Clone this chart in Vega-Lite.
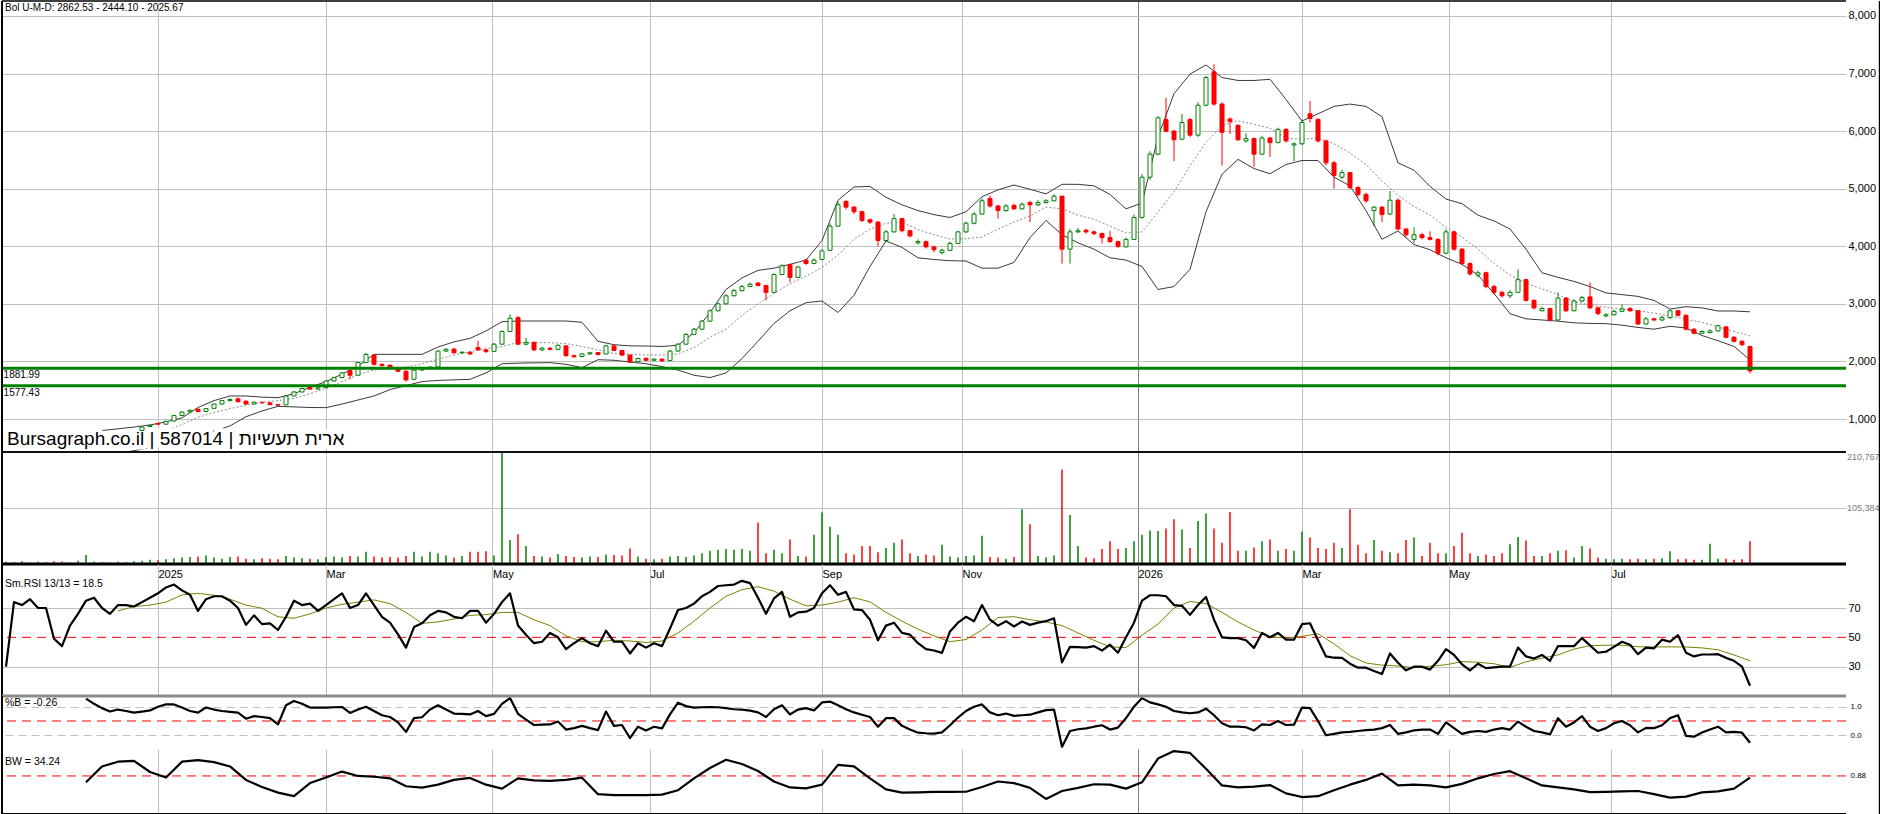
{
  "$schema": "https://vega.github.io/schema/vega-lite/v6.json",
  "padding": 0,
  "background": "white",
  "bounds": "flush",
  "spacing": 0,
  "config": {
    "view": {"stroke": null},
    "axis": {"domain": false, "ticks": false, "tickSize": 0, "labelFont": "Liberation Sans"},
    "text": {"font": "Liberation Sans"}
  },
  "datasets": {
    "c": [
      {"t":1,"o":440,"h":458,"l":432,"c":450,"v":4000,"r":30},
      {"t":3,"o":450,"h":478,"l":446,"c":470,"v":3500,"r":74},
      {"t":5,"o":470,"h":505,"l":465,"c":500,"v":5000,"r":72},
      {"t":7,"o":500,"h":535,"l":495,"c":530,"v":3000,"r":76},
      {"t":9,"o":530,"h":548,"l":522,"c":540,"v":4000,"r":70},
      {"t":11,"o":540,"h":562,"l":535,"c":555,"v":3500,"r":70},
      {"t":13,"o":560,"h":565,"l":538,"c":545,"v":5000,"r":49},
      {"t":15,"o":545,"h":550,"l":522,"c":530,"v":4500,"r":44},
      {"t":17,"o":530,"h":575,"l":528,"c":570,"v":3000,"r":58},
      {"t":19,"o":570,"h":615,"l":565,"c":610,"v":6000,"r":66},
      {"t":21,"o":610,"h":668,"l":605,"c":660,"v":17000,"r":75,"p":1.28},
      {"t":23,"o":660,"h":708,"l":655,"c":700,"v":4000,"r":77,"p":1.1},
      {"t":25,"o":705,"h":730,"l":695,"c":720,"v":3500,"r":70,"p":0.95},
      {"t":27,"o":725,"h":740,"l":715,"c":730,"v":3000,"r":66,"p":0.83},
      {"t":29,"o":730,"h":778,"l":725,"c":770,"v":4000,"r":72,"p":0.9},
      {"t":31,"o":770,"h":798,"l":765,"c":790,"v":3500,"r":72,"p":0.85},
      {"t":33,"o":795,"h":810,"l":785,"c":800,"v":5000,"r":71,"p":0.79},
      {"t":35,"o":800,"h":866,"l":795,"c":860,"v":6000,"r":74,"p":0.83},
      {"t":37,"o":870,"h":900,"l":860,"c":890,"v":8000,"r":77,"p":0.87},
      {"t":39,"o":925,"h":930,"l":900,"c":910,"v":7000,"r":80,"p":1.0},
      {"t":41,"o":910,"h":968,"l":905,"c":960,"v":9000,"r":84,"p":1.08},
      {"t":43,"o":965,"h":1070,"l":960,"c":1060,"v":11000,"r":86,"p":1.08},
      {"t":45,"o":1060,"h":1135,"l":1050,"c":1120,"v":12000,"r":82,"p":0.97},
      {"t":47,"o":1125,"h":1165,"l":1110,"c":1150,"v":13000,"r":79,"p":0.85},
      {"t":49,"o":1170,"h":1180,"l":1115,"c":1130,"v":14000,"r":68,"p":0.79},
      {"t":51,"o":1130,"h":1190,"l":1120,"c":1180,"v":16000,"r":76,"p":0.97},
      {"t":53,"o":1185,"h":1270,"l":1180,"c":1260,"v":12000,"r":78,"p":0.9},
      {"t":55,"o":1260,"h":1330,"l":1250,"c":1320,"v":10000,"r":78,"p":0.85},
      {"t":57,"o":1320,"h":1355,"l":1305,"c":1340,"v":13000,"r":75,"p":0.82},
      {"t":59,"o":1350,"h":1370,"l":1290,"c":1300,"v":14000,"r":70,"p":0.79},
      {"t":61,"o":1310,"h":1320,"l":1250,"c":1260,"v":10000,"r":58.5,"p":0.58},
      {"t":63,"o":1260,"h":1305,"l":1255,"c":1290,"v":9000,"r":65,"p":0.67},
      {"t":65,"o":1290,"h":1300,"l":1270,"c":1280,"v":11000,"r":59,"p":0.64},
      {"t":67,"o":1280,"h":1290,"l":1240,"c":1250,"v":10000,"r":59.5,"p":0.6},
      {"t":69,"o":1250,"h":1262,"l":1232,"c":1240,"v":9000,"r":55,"p":0.38},
      {"t":71,"o":1245,"h":1410,"l":1240,"c":1400,"v":15000,"r":64,"p":1.05},
      {"t":73,"o":1400,"h":1480,"l":1395,"c":1470,"v":12000,"r":75,"p":1.2},
      {"t":75,"o":1470,"h":1540,"l":1462,"c":1530,"v":11000,"r":72,"p":1.1},
      {"t":77,"o":1545,"h":1555,"l":1510,"c":1520,"v":10000,"r":73,"p":0.97},
      {"t":79,"o":1520,"h":1550,"l":1512,"c":1540,"v":9000,"r":68,"p":0.97},
      {"t":81,"o":1545,"h":1670,"l":1540,"c":1660,"v":13000,"r":72,"p":0.97},
      {"t":83,"o":1660,"h":1735,"l":1655,"c":1720,"v":14000,"r":76,"p":0.98},
      {"t":85,"o":1720,"h":1815,"l":1710,"c":1800,"v":12000,"r":80,"p":0.99},
      {"t":87,"o":1840,"h":1850,"l":1690,"c":1760,"v":15000,"r":70,"p":0.78},
      {"t":89,"o":1760,"h":1995,"l":1755,"c":1980,"v":14000,"r":72,"p":0.9},
      {"t":91,"o":1980,"h":2150,"l":1970,"c":2120,"v":23000,"r":80,"p":1.0},
      {"t":93,"o":2110,"h":2120,"l":1930,"c":1950,"v":14000,"r":72,"p":0.85},
      {"t":95,"o":1950,"h":1965,"l":1910,"c":1930,"v":12000,"r":64,"p":0.7},
      {"t":97,"o":1935,"h":1945,"l":1860,"c":1880,"v":13000,"r":60,"p":0.64},
      {"t":99,"o":1880,"h":1890,"l":1815,"c":1830,"v":12000,"r":52,"p":0.45},
      {"t":101,"o":1830,"h":1840,"l":1650,"c":1680,"v":15000,"r":43,"p":0.12},
      {"t":103,"o":1690,"h":1860,"l":1680,"c":1850,"v":23000,"r":57,"p":0.6},
      {"t":105,"o":1850,"h":1905,"l":1840,"c":1890,"v":14000,"r":59.6,"p":0.63},
      {"t":107,"o":1890,"h":1915,"l":1880,"c":1900,"v":23000,"r":65,"p":0.9},
      {"t":109,"o":1905,"h":2195,"l":1900,"c":2180,"v":20000,"r":68,"p":1.05},
      {"t":111,"o":2180,"h":2230,"l":2165,"c":2210,"v":16000,"r":67,"p":0.9},
      {"t":113,"o":2215,"h":2225,"l":2135,"c":2150,"v":12000,"r":64,"p":0.76},
      {"t":115,"o":2150,"h":2175,"l":2140,"c":2160,"v":15000,"r":63,"p":0.75},
      {"t":117,"o":2160,"h":2170,"l":2115,"c":2130,"v":23000,"r":68,"p":0.73},
      {"t":119,"o":2240,"h":2355,"l":2190,"c":2200,"v":23000,"r":68,"p":0.85},
      {"t":121,"o":2200,"h":2215,"l":2150,"c":2170,"v":24000,"r":60,"p":0.67},
      {"t":123,"o":2175,"h":2320,"l":2170,"c":2300,"v":16000,"r":66,"p":0.75},
      {"t":125,"o":2300,"h":2540,"l":2290,"c":2520,"v":210767,"r":74,"p":1.1},
      {"t":127,"o":2520,"h":2818,"l":2510,"c":2750,"v":45000,"r":80,"p":1.3},
      {"t":129,"o":2760,"h":2790,"l":2280,"c":2300,"v":56000,"r":58,"p":0.75},
      {"t":131,"o":2300,"h":2410,"l":2280,"c":2330,"v":34000,"r":51.8,"p":0.55},
      {"t":133,"o":2330,"h":2345,"l":2180,"c":2200,"v":15000,"r":46,"p":0.36},
      {"t":135,"o":2200,"h":2250,"l":2185,"c":2230,"v":14000,"r":47,"p":0.37},
      {"t":137,"o":2230,"h":2250,"l":2195,"c":2210,"v":12000,"r":53,"p":0.38},
      {"t":139,"o":2210,"h":2295,"l":2200,"c":2280,"v":19000,"r":50,"p":0.48},
      {"t":141,"o":2270,"h":2280,"l":2080,"c":2100,"v":15000,"r":42,"p":0.2},
      {"t":143,"o":2100,"h":2115,"l":2065,"c":2080,"v":13000,"r":46,"p":0.25},
      {"t":145,"o":2085,"h":2145,"l":2075,"c":2130,"v":12000,"r":49.5,"p":0.33},
      {"t":147,"o":2130,"h":2165,"l":2115,"c":2150,"v":14000,"r":46,"p":0.25},
      {"t":149,"o":2155,"h":2165,"l":2105,"c":2120,"v":13000,"r":44,"p":0.18},
      {"t":151,"o":2130,"h":2285,"l":2125,"c":2270,"v":18000,"r":54.5,"p":0.83},
      {"t":153,"o":2270,"h":2280,"l":2175,"c":2190,"v":17000,"r":47,"p":0.33},
      {"t":155,"o":2190,"h":2200,"l":2095,"c":2110,"v":16000,"r":47,"p":0.36},
      {"t":157,"o":2110,"h":2120,"l":1975,"c":1990,"v":29000,"r":39,"p":-0.1},
      {"t":159,"o":1995,"h":2065,"l":1985,"c":2050,"v":14000,"r":46,"p":0.3},
      {"t":161,"o":2055,"h":2065,"l":2005,"c":2020,"v":10000,"r":43,"p":0.17},
      {"t":163,"o":2020,"h":2055,"l":2010,"c":2040,"v":9000,"r":46,"p":0.3},
      {"t":165,"o":2040,"h":2050,"l":1995,"c":2010,"v":10000,"r":44,"p":0.24},
      {"t":167,"o":2015,"h":2195,"l":2010,"c":2180,"v":14000,"r":56,"p":0.73},
      {"t":169,"o":2180,"h":2315,"l":2170,"c":2300,"v":15000,"r":68.6,"p":1.14},
      {"t":171,"o":2300,"h":2490,"l":2290,"c":2470,"v":13000,"r":70,"p":1.02},
      {"t":173,"o":2470,"h":2580,"l":2460,"c":2560,"v":16000,"r":73,"p":0.97},
      {"t":175,"o":2560,"h":2720,"l":2550,"c":2700,"v":20000,"r":78,"p":0.98},
      {"t":177,"o":2700,"h":2900,"l":2690,"c":2880,"v":25000,"r":81,"p":0.99},
      {"t":179,"o":2880,"h":3020,"l":2870,"c":3000,"v":27000,"r":85,"p":0.98},
      {"t":181,"o":3000,"h":3165,"l":2990,"c":3140,"v":28000,"r":85.5,"p":0.95},
      {"t":183,"o":3140,"h":3260,"l":3130,"c":3230,"v":27000,"r":86,"p":0.91},
      {"t":185,"o":3230,"h":3330,"l":3215,"c":3300,"v":28000,"r":88.5,"p":0.9},
      {"t":187,"o":3300,"h":3370,"l":3290,"c":3340,"v":25000,"r":87,"p":0.86},
      {"t":189,"o":3360,"h":3380,"l":3300,"c":3320,"v":78000,"r":77,"p":0.8},
      {"t":191,"o":3320,"h":3330,"l":3060,"c":3200,"v":20000,"r":66,"p":0.64},
      {"t":193,"o":3200,"h":3530,"l":3190,"c":3510,"v":27000,"r":76.5,"p":0.91},
      {"t":195,"o":3510,"h":3690,"l":3500,"c":3660,"v":20000,"r":81,"p":1.05},
      {"t":197,"o":3680,"h":3700,"l":3380,"c":3460,"v":46000,"r":64,"p":0.73},
      {"t":199,"o":3460,"h":3660,"l":3450,"c":3640,"v":15000,"r":67,"p":0.9},
      {"t":201,"o":3760,"h":3780,"l":3680,"c":3700,"v":14000,"r":67.5,"p":0.95},
      {"t":203,"o":3700,"h":3790,"l":3690,"c":3760,"v":55000,"r":70,"p":0.87},
      {"t":205,"o":3770,"h":3950,"l":3760,"c":3920,"v":97000,"r":80,"p":1.15},
      {"t":207,"o":3930,"h":4400,"l":3920,"c":4350,"v":70000,"r":85.5,"p":1.18},
      {"t":209,"o":4350,"h":4780,"l":4340,"c":4720,"v":55000,"r":79,"p":1.05},
      {"t":211,"o":4780,"h":4800,"l":4640,"c":4680,"v":20000,"r":81,"p":0.91},
      {"t":213,"o":4680,"h":4700,"l":4560,"c":4600,"v":18000,"r":69,"p":0.8},
      {"t":215,"o":4600,"h":4620,"l":4420,"c":4450,"v":34000,"r":68.6,"p":0.72},
      {"t":217,"o":4460,"h":4480,"l":4390,"c":4420,"v":34000,"r":62,"p":0.64},
      {"t":219,"o":4420,"h":4440,"l":4000,"c":4100,"v":22000,"r":48,"p":0.3},
      {"t":221,"o":4100,"h":4280,"l":4080,"c":4250,"v":30000,"r":58,"p":0.6},
      {"t":223,"o":4250,"h":4560,"l":4240,"c":4480,"v":40000,"r":60,"p":0.6},
      {"t":225,"o":4480,"h":4490,"l":4240,"c":4270,"v":46000,"r":53,"p":0.33},
      {"t":227,"o":4270,"h":4290,"l":4150,"c":4180,"v":20000,"r":51.8,"p":0.2},
      {"t":229,"o":4060,"h":4120,"l":4030,"c":4080,"v":15000,"r":46,"p":0.09},
      {"t":231,"o":4080,"h":4100,"l":3960,"c":3990,"v":18000,"r":42,"p":0.07},
      {"t":233,"o":3990,"h":4010,"l":3900,"c":3940,"v":16000,"r":41,"p":0.06},
      {"t":235,"o":3890,"h":3960,"l":3860,"c":3930,"v":36000,"r":39.4,"p":0.1},
      {"t":237,"o":3930,"h":4080,"l":3920,"c":4050,"v":14000,"r":54,"p":0.35},
      {"t":239,"o":4050,"h":4270,"l":4040,"c":4250,"v":12000,"r":60,"p":0.62},
      {"t":241,"o":4250,"h":4430,"l":4230,"c":4400,"v":15000,"r":64,"p":0.85},
      {"t":243,"o":4400,"h":4600,"l":4380,"c":4560,"v":16000,"r":61,"p":1.0},
      {"t":245,"o":4560,"h":4830,"l":4550,"c":4790,"v":53000,"r":72,"p":1.08},
      {"t":247,"o":4830,"h":4880,"l":4670,"c":4700,"v":13000,"r":62,"p":0.8},
      {"t":249,"o":4700,"h":4720,"l":4480,"c":4620,"v":12000,"r":58,"p":0.7},
      {"t":251,"o":4620,"h":4730,"l":4600,"c":4700,"v":10000,"r":61,"p":0.76},
      {"t":253,"o":4710,"h":4740,"l":4630,"c":4650,"v":13000,"r":57.4,"p":0.68},
      {"t":255,"o":4650,"h":4760,"l":4640,"c":4730,"v":103000,"r":60.8,"p":0.7},
      {"t":257,"o":4760,"h":4790,"l":4420,"c":4720,"v":75000,"r":58.5,"p":0.72},
      {"t":259,"o":4720,"h":4800,"l":4700,"c":4760,"v":15000,"r":60,"p":0.8},
      {"t":261,"o":4760,"h":4820,"l":4740,"c":4790,"v":12000,"r":61,"p":0.88},
      {"t":263,"o":4790,"h":4900,"l":4780,"c":4870,"v":16000,"r":63,"p":0.9},
      {"t":265,"o":4870,"h":4880,"l":3700,"c":3950,"v":178000,"r":33,"p":-0.4},
      {"t":267,"o":3950,"h":4300,"l":3700,"c":4250,"v":92000,"r":43.5,"p":0.15},
      {"t":269,"o":4250,"h":4320,"l":4230,"c":4270,"v":34000,"r":43.3,"p":0.21},
      {"t":271,"o":4280,"h":4300,"l":4220,"c":4250,"v":12000,"r":43,"p":0.24},
      {"t":273,"o":4250,"h":4270,"l":4190,"c":4220,"v":11000,"r":44,"p":0.3},
      {"t":275,"o":4220,"h":4240,"l":4050,"c":4150,"v":28000,"r":41,"p":0.35},
      {"t":277,"o":4150,"h":4270,"l":4060,"c":4080,"v":43000,"r":45,"p":0.2},
      {"t":279,"o":4080,"h":4100,"l":3970,"c":4000,"v":28000,"r":39.5,"p":0.27},
      {"t":281,"o":3990,"h":4150,"l":3980,"c":4120,"v":30000,"r":50,"p":0.6},
      {"t":283,"o":4120,"h":4550,"l":4110,"c":4500,"v":43000,"r":60,"p":1.0},
      {"t":285,"o":4500,"h":5250,"l":4480,"c":5200,"v":55000,"r":75,"p":1.3},
      {"t":287,"o":5200,"h":5650,"l":5150,"c":5600,"v":63000,"r":78.7,"p":1.15},
      {"t":289,"o":5600,"h":6260,"l":5580,"c":6230,"v":62000,"r":78.7,"p":1.08},
      {"t":291,"o":6200,"h":6580,"l":5980,"c":6000,"v":67000,"r":78,"p":1.0},
      {"t":293,"o":6000,"h":6020,"l":5480,"c":5850,"v":84000,"r":72,"p":0.85},
      {"t":295,"o":5860,"h":6300,"l":5840,"c":6150,"v":65000,"r":71.5,"p":0.8},
      {"t":297,"o":6200,"h":6230,"l":5900,"c":5930,"v":30000,"r":65.3,"p":0.77},
      {"t":299,"o":5930,"h":6500,"l":5900,"c":6450,"v":81000,"r":72,"p":0.8},
      {"t":301,"o":6450,"h":6960,"l":6430,"c":6930,"v":95000,"r":77.5,"p":0.93},
      {"t":303,"o":7030,"h":7160,"l":6440,"c":6470,"v":67000,"r":62,"p":0.7},
      {"t":305,"o":6470,"h":6500,"l":5400,"c":5980,"v":40000,"r":50,"p":0.42},
      {"t":307,"o":6210,"h":6240,"l":5950,"c":6170,"v":98000,"r":49.5,"p":0.3},
      {"t":309,"o":6100,"h":6120,"l":5830,"c":5850,"v":25000,"r":49.5,"p":0.3},
      {"t":311,"o":5830,"h":5960,"l":5800,"c":5870,"v":25000,"r":48,"p":0.28},
      {"t":313,"o":5870,"h":5890,"l":5380,"c":5600,"v":31000,"r":42.8,"p":0.17},
      {"t":315,"o":5600,"h":5920,"l":5590,"c":5880,"v":43000,"r":52.9,"p":0.38},
      {"t":317,"o":5880,"h":5900,"l":5550,"c":5800,"v":46000,"r":50,"p":0.36},
      {"t":319,"o":5800,"h":6060,"l":5790,"c":6030,"v":25000,"r":53,"p":0.5},
      {"t":321,"o":6030,"h":6050,"l":5800,"c":5830,"v":28000,"r":48.4,"p":0.36},
      {"t":323,"o":5760,"h":5800,"l":5480,"c":5780,"v":25000,"r":48.4,"p":0.37},
      {"t":325,"o":5780,"h":6200,"l":5760,"c":6150,"v":61000,"r":59,"p":0.97},
      {"t":327,"o":6300,"h":6524,"l":6150,"c":6220,"v":50000,"r":59.6,"p":0.95},
      {"t":329,"o":6200,"h":6230,"l":5800,"c":5830,"v":30000,"r":48,"p":0.5},
      {"t":331,"o":5830,"h":5850,"l":5400,"c":5450,"v":28000,"r":37,"p":0.0},
      {"t":333,"o":5450,"h":5480,"l":5000,"c":5230,"v":40000,"r":36.1,"p":0.05},
      {"t":335,"o":5200,"h":5330,"l":5170,"c":5280,"v":30000,"r":36,"p":0.1},
      {"t":337,"o":5280,"h":5290,"l":4990,"c":5020,"v":103000,"r":32,"p":0.12},
      {"t":339,"o":5020,"h":5050,"l":4860,"c":4900,"v":36000,"r":29.3,"p":0.15},
      {"t":341,"o":4900,"h":4930,"l":4750,"c":4790,"v":20000,"r":29.3,"p":0.18},
      {"t":343,"o":4620,"h":4700,"l":4350,"c":4680,"v":45000,"r":27,"p":0.2},
      {"t":345,"o":4680,"h":4700,"l":4420,"c":4550,"v":25000,"r":25,"p":0.25},
      {"t":347,"o":4560,"h":4960,"l":4540,"c":4800,"v":22000,"r":39,"p":0.36},
      {"t":349,"o":4800,"h":4830,"l":4280,"c":4300,"v":20000,"r":32.7,"p":0.05},
      {"t":351,"o":4300,"h":4320,"l":4160,"c":4200,"v":45000,"r":27.5,"p":0.1},
      {"t":353,"o":4120,"h":4330,"l":4050,"c":4200,"v":50000,"r":30,"p":0.17},
      {"t":355,"o":4200,"h":4230,"l":4120,"c":4150,"v":15000,"r":30,"p":0.2},
      {"t":357,"o":4150,"h":4260,"l":4100,"c":4120,"v":40000,"r":28,"p":0.2},
      {"t":359,"o":4120,"h":4140,"l":3840,"c":3880,"v":20000,"r":34,"p":0.05},
      {"t":361,"o":3880,"h":4300,"l":3860,"c":4250,"v":20000,"r":42,"p":0.45},
      {"t":363,"o":4250,"h":4270,"l":3920,"c":3950,"v":34000,"r":38,"p":0.25},
      {"t":365,"o":3950,"h":3970,"l":3670,"c":3700,"v":59000,"r":31.6,"p":0.05},
      {"t":367,"o":3700,"h":3720,"l":3490,"c":3520,"v":20000,"r":27.5,"p":0.12},
      {"t":369,"o":3500,"h":3580,"l":3460,"c":3540,"v":15000,"r":32,"p":0.15},
      {"t":371,"o":3540,"h":3560,"l":3270,"c":3300,"v":18000,"r":29,"p":0.12},
      {"t":373,"o":3300,"h":3330,"l":3160,"c":3200,"v":15000,"r":29.5,"p":0.2},
      {"t":375,"o":3200,"h":3230,"l":3110,"c":3140,"v":20000,"r":30,"p":0.25},
      {"t":377,"o":3140,"h":3240,"l":3100,"c":3200,"v":37000,"r":30,"p":0.2},
      {"t":379,"o":3200,"h":3600,"l":3190,"c":3420,"v":51000,"r":43,"p":0.48},
      {"t":381,"o":3420,"h":3440,"l":3040,"c":3060,"v":44000,"r":37,"p":0.3},
      {"t":383,"o":3060,"h":3080,"l":2900,"c":2930,"v":15000,"r":35.5,"p":0.15},
      {"t":385,"o":2880,"h":2950,"l":2870,"c":2920,"v":15000,"r":38,"p":0.1},
      {"t":387,"o":2920,"h":2930,"l":2690,"c":2720,"v":20000,"r":34,"p":0.03},
      {"t":389,"o":2720,"h":3200,"l":2700,"c":3100,"v":25000,"r":44,"p":0.6},
      {"t":391,"o":3100,"h":3120,"l":2860,"c":2880,"v":26000,"r":44,"p":0.3},
      {"t":393,"o":2880,"h":3080,"l":2870,"c":3050,"v":12000,"r":44,"p":0.45},
      {"t":395,"o":3050,"h":3140,"l":3030,"c":3110,"v":34000,"r":49.5,"p":0.67},
      {"t":397,"o":3120,"h":3370,"l":2910,"c":2930,"v":29000,"r":44.5,"p":0.3},
      {"t":399,"o":2930,"h":2950,"l":2800,"c":2830,"v":12000,"r":39.5,"p":0.15},
      {"t":401,"o":2790,"h":2840,"l":2770,"c":2810,"v":10000,"r":40.2,"p":0.25},
      {"t":403,"o":2810,"h":2900,"l":2800,"c":2870,"v":9000,"r":43.5,"p":0.42},
      {"t":405,"o":2870,"h":2990,"l":2860,"c":2910,"v":10000,"r":47,"p":0.5},
      {"t":407,"o":2920,"h":2940,"l":2860,"c":2880,"v":9000,"r":45,"p":0.35},
      {"t":409,"o":2880,"h":2890,"l":2630,"c":2650,"v":10000,"r":38.5,"p":0.1},
      {"t":411,"o":2650,"h":2770,"l":2640,"c":2740,"v":9000,"r":43,"p":0.26},
      {"t":413,"o":2740,"h":2760,"l":2700,"c":2720,"v":10000,"r":42.5,"p":0.25},
      {"t":415,"o":2720,"h":2800,"l":2700,"c":2760,"v":11000,"r":48.4,"p":0.35},
      {"t":417,"o":2760,"h":2900,"l":2740,"c":2880,"v":24000,"r":47,"p":0.6},
      {"t":419,"o":2880,"h":2890,"l":2780,"c":2800,"v":9000,"r":51.5,"p":0.7},
      {"t":421,"o":2800,"h":2820,"l":2540,"c":2560,"v":10000,"r":39.5,"p":-0.02},
      {"t":423,"o":2560,"h":2580,"l":2470,"c":2490,"v":8000,"r":37,"p":-0.05},
      {"t":425,"o":2490,"h":2540,"l":2480,"c":2520,"v":8000,"r":38.3,"p":0.1},
      {"t":427,"o":2500,"h":2560,"l":2490,"c":2530,"v":38000,"r":38.3,"p":0.2},
      {"t":429,"o":2530,"h":2640,"l":2520,"c":2620,"v":10000,"r":38.5,"p":0.3},
      {"t":431,"o":2600,"h":2610,"l":2400,"c":2420,"v":10000,"r":36,"p":0.1},
      {"t":433,"o":2420,"h":2440,"l":2330,"c":2350,"v":8000,"r":34,"p":0.12},
      {"t":435,"o":2350,"h":2370,"l":2270,"c":2290,"v":9000,"r":30,"p":0.09},
      {"t":437,"o":2260,"h":2270,"l":1790,"c":1835,"v":43000,"r":17,"p":-0.26}
    ],
    "b": [
      {"t":17,"u":745,"m":520,"d":300},
      {"t":21,"u":770,"m":540,"d":320,"w":0.8},
      {"t":25,"u":800,"m":570,"d":350,"w":1.0},
      {"t":29,"u":830,"m":620,"d":400,"s":68,"w":1.06},
      {"t":33,"u":860,"m":680,"d":450,"s":71,"w":1.07},
      {"t":37,"u":896,"m":730,"d":502,"s":72,"w":0.93},
      {"t":41,"u":950,"m":800,"d":560,"s":74,"w":0.86},
      {"t":45,"u":1020,"m":900,"d":630,"s":79,"w":1.06},
      {"t":49,"u":1200,"m":1030,"d":700,"s":80,"w":1.08},
      {"t":53,"u":1320,"m":1110,"d":790,"s":78.7,"w":1.055},
      {"t":57,"u":1400,"m":1180,"d":880,"s":76,"w":1.0},
      {"t":61,"u":1400,"m":1240,"d":1040,"s":72,"w":0.83},
      {"t":65,"u":1380,"m":1290,"d":1140,"s":69.8,"w":0.74},
      {"t":69,"u":1370,"m":1320,"d":1220,"s":64,"w":0.67},
      {"t":73,"u":1440,"m":1360,"d":1210,"s":63,"w":0.625},
      {"t":77,"u":1550,"m":1440,"d":1200,"s":66,"w":0.79},
      {"t":81,"u":1650,"m":1530,"d":1197,"s":70,"w":0.86},
      {"t":85,"u":1780,"m":1650,"d":1260,"s":72.5,"w":0.935},
      {"t":89,"u":1920,"m":1770,"d":1330,"s":74,"w":0.88},
      {"t":93,"u":2123,"m":1850,"d":1400,"s":75.5,"w":0.87},
      {"t":97,"u":2123,"m":1880,"d":1510,"s":73,"w":0.85},
      {"t":101,"u":2123,"m":1900,"d":1580,"s":67,"w":0.75},
      {"t":105,"u":2123,"m":1960,"d":1650,"s":59.5,"w":0.733},
      {"t":109,"u":2250,"m":2040,"d":1670,"s":60.5,"w":0.77},
      {"t":113,"u":2340,"m":2110,"d":1680,"s":62.5,"w":0.83},
      {"t":117,"u":2400,"m":2170,"d":1689,"s":65,"w":0.855},
      {"t":121,"u":2530,"m":2220,"d":1800,"s":65.5,"w":0.77},
      {"t":125,"u":2690,"m":2260,"d":1960,"s":67,"w":0.72},
      {"t":129,"u":2702,"m":2326,"d":1970,"s":67,"w":0.85},
      {"t":133,"u":2702,"m":2326,"d":1975,"s":62,"w":0.824},
      {"t":137,"u":2702,"m":2326,"d":1979,"s":58,"w":0.817},
      {"t":141,"u":2702,"m":2310,"d":1950,"s":51,"w":0.83},
      {"t":145,"u":2680,"m":2260,"d":1892,"s":47,"w":0.858},
      {"t":149,"u":2350,"m":2200,"d":2030,"s":47,"w":0.65},
      {"t":153,"u":2290,"m":2140,"d":2020,"s":48,"w":0.639},
      {"t":157,"u":2270,"m":2125,"d":1990,"s":47.5,"w":0.639},
      {"t":161,"u":2268,"m":2110,"d":1960,"s":46.5,"w":0.639},
      {"t":165,"u":2260,"m":2110,"d":1910,"s":47.5,"w":0.645},
      {"t":169,"u":2280,"m":2130,"d":1850,"s":53,"w":0.7},
      {"t":173,"u":2500,"m":2240,"d":1760,"s":61,"w":0.85},
      {"t":177,"u":2850,"m":2420,"d":1720,"s":70,"w":0.98},
      {"t":181,"u":3250,"m":2560,"d":1800,"s":78,"w":1.085},
      {"t":185,"u":3450,"m":2800,"d":2050,"s":82.5,"w":1.03},
      {"t":189,"u":3582,"m":3000,"d":2350,"s":84.5,"w":0.942},
      {"t":193,"u":3620,"m":3180,"d":2660,"s":81.5,"w":0.81},
      {"t":197,"u":3686,"m":3350,"d":2880,"s":76,"w":0.735},
      {"t":201,"u":3760,"m":3480,"d":3020,"s":71.5,"w":0.723},
      {"t":205,"u":4100,"m":3629,"d":3050,"s":72,"w":0.77},
      {"t":209,"u":4800,"m":3850,"d":2850,"s":74,"w":1.02},
      {"t":213,"u":5030,"m":4120,"d":3150,"s":77,"w":1.0},
      {"t":217,"u":5040,"m":4300,"d":3650,"s":74.2,"w":0.85},
      {"t":221,"u":4850,"m":4400,"d":4092,"s":67,"w":0.71},
      {"t":225,"u":4720,"m":4420,"d":3980,"s":61,"w":0.67},
      {"t":229,"u":4620,"m":4290,"d":3800,"s":55.5,"w":0.674},
      {"t":233,"u":4550,"m":4200,"d":3770,"s":51,"w":0.68},
      {"t":237,"u":4500,"m":4125,"d":3750,"s":47,"w":0.68},
      {"t":241,"u":4600,"m":4130,"d":3744,"s":48.5,"w":0.681},
      {"t":245,"u":4860,"m":4160,"d":3620,"s":55,"w":0.74},
      {"t":249,"u":4980,"m":4300,"d":3620,"s":63.5,"w":0.81},
      {"t":253,"u":5064,"m":4420,"d":3720,"s":64.1,"w":0.79},
      {"t":257,"u":4990,"m":4530,"d":4150,"s":62,"w":0.73},
      {"t":261,"u":4910,"m":4680,"d":4450,"s":60.5,"w":0.59},
      {"t":265,"u":5076,"m":4650,"d":4200,"s":58,"w":0.69},
      {"t":269,"u":5076,"m":4540,"d":4060,"s":53,"w":0.73},
      {"t":273,"u":5050,"m":4470,"d":3950,"s":48,"w":0.775},
      {"t":277,"u":4900,"m":4350,"d":3800,"s":43.5,"w":0.77},
      {"t":281,"u":4650,"m":4230,"d":3760,"s":43,"w":0.72},
      {"t":285,"u":4750,"m":4250,"d":3650,"s":51.5,"w":0.8},
      {"t":289,"u":5900,"m":4590,"d":3250,"s":59,"w":1.1},
      {"t":293,"u":6650,"m":4950,"d":3300,"s":70,"w":1.194},
      {"t":297,"u":6990,"m":5400,"d":3600,"s":74.5,"w":1.17},
      {"t":301,"u":7150,"m":5800,"d":4600,"s":73,"w":0.97},
      {"t":305,"u":6930,"m":6100,"d":5250,"s":67,"w":0.76},
      {"t":309,"u":6880,"m":6180,"d":5510,"s":60.5,"w":0.735},
      {"t":313,"u":6880,"m":6120,"d":5350,"s":55,"w":0.745},
      {"t":317,"u":6900,"m":6050,"d":5260,"s":50.5,"w":0.765},
      {"t":321,"u":6550,"m":5880,"d":5420,"s":49.5,"w":0.66},
      {"t":325,"u":6176,"m":5858,"d":5490,"s":50.7,"w":0.614},
      {"t":329,"u":6300,"m":5880,"d":5490,"s":52.5,"w":0.625},
      {"t":333,"u":6430,"m":5780,"d":5200,"s":45.5,"w":0.7},
      {"t":337,"u":6470,"m":5620,"d":5050,"s":37.5,"w":0.77},
      {"t":341,"u":6430,"m":5420,"d":4620,"s":32.5,"w":0.83},
      {"t":345,"u":6250,"m":5130,"d":4121,"s":31,"w":0.91},
      {"t":349,"u":5450,"m":4890,"d":4266,"s":30.5,"w":0.76},
      {"t":353,"u":5320,"m":4690,"d":4030,"s":29.3,"w":0.77},
      {"t":357,"u":5040,"m":4540,"d":3940,"s":30.3,"w":0.76},
      {"t":361,"u":4820,"m":4330,"d":3800,"s":31.3,"w":0.735},
      {"t":365,"u":4740,"m":4160,"d":3687,"s":33.4,"w":0.78},
      {"t":369,"u":4540,"m":3950,"d":3500,"s":33,"w":0.85},
      {"t":373,"u":4440,"m":3700,"d":3180,"s":32,"w":0.905},
      {"t":377,"u":4300,"m":3500,"d":2830,"s":29.5,"w":0.94},
      {"t":381,"u":3950,"m":3360,"d":2740,"s":33.3,"w":0.85},
      {"t":385,"u":3540,"m":3260,"d":2720,"s":35.8,"w":0.76},
      {"t":389,"u":3460,"m":3160,"d":2700,"s":38,"w":0.735},
      {"t":393,"u":3390,"m":3040,"d":2670,"s":42,"w":0.71},
      {"t":397,"u":3300,"m":2980,"d":2660,"s":44.3,"w":0.675},
      {"t":401,"u":3190,"m":2940,"d":2656,"s":44.6,"w":0.68},
      {"t":405,"u":3160,"m":2910,"d":2630,"s":44.6,"w":0.685},
      {"t":409,"u":3130,"m":2880,"d":2590,"s":43.6,"w":0.69},
      {"t":413,"u":3060,"m":2840,"d":2560,"s":43.4,"w":0.65},
      {"t":417,"u":2910,"m":2790,"d":2610,"s":43.5,"w":0.606},
      {"t":421,"u":2950,"m":2730,"d":2580,"s":43.4,"w":0.62},
      {"t":425,"u":2930,"m":2680,"d":2450,"s":42.8,"w":0.672},
      {"t":429,"u":2876,"m":2600,"d":2360,"s":41.5,"w":0.685},
      {"t":433,"u":2876,"m":2520,"d":2260,"s":38,"w":0.72},
      {"t":437,"u":2862,"m":2444,"d":2026,"s":34,"w":0.858}
    ]
  },
  "vconcat": [
    {
      "width": 1844,
      "height": 451,
      "layer": [
        {
          "data": {"name": "b"},
          "mark": {"type": "line", "color": "#3a3a3a", "strokeWidth": 1, "clip": true},
          "encoding": {
            "x": {"field": "t", "type": "quantitative", "title": null,
              "scale": {"domain": [0, 461], "nice": false, "zero": false, "padding": 0},
              "axis": {"values": [39, 81, 122.6, 162, 205, 240, 284, 325, 361.7, 402.3], "labels": false, "grid": true,
                "gridColor": {"condition": {"test": "datum.value == 284", "value": "#808080"}, "value": "#c0c0c0"}}},
            "y": {"field": "u", "type": "quantitative", "title": null,
              "scale": {"domain": [427, 8260], "nice": false, "zero": false, "padding": 0},
              "axis": {"orient": "right", "values": [1000, 2000, 3000, 4000, 5000, 6000, 7000, 8000], "format": ",d", "grid": true, "gridColor": "#c0c0c0", "labelFontSize": 11, "labelColor": "#000", "labelPadding": 2}}
          }
        },
        {
          "data": {"name": "b"},
          "mark": {"type": "line", "color": "#3a3a3a", "strokeWidth": 1, "clip": true},
          "encoding": {
            "x": {"field": "t", "type": "quantitative", "title": null},
            "y": {"field": "d", "type": "quantitative", "title": null}
          }
        },
        {
          "data": {"name": "b"},
          "mark": {"type": "line", "color": "#8c8c8c", "strokeWidth": 1, "strokeDash": [2, 2], "clip": true},
          "encoding": {
            "x": {"field": "t", "type": "quantitative", "title": null},
            "y": {"field": "m", "type": "quantitative", "title": null}
          }
        },
        {
          "data": {"values": [{}]},
          "mark": {"type": "text", "align": "left", "baseline": "middle", "fontSize": 19, "fill": "white", "stroke": "white", "strokeWidth": 9, "strokeJoin": "round", "text": "Bursagraph.co.il | 587014 | ארית תעשיות"},
          "encoding": {"x": {"datum": 1.25}, "y": {"datum": 661}}
        },
        {
          "data": {"name": "c"},
          "transform": [{"filter": "datum.t >= 35"}],
          "mark": {"type": "rule", "strokeWidth": 1, "clip": true},
          "encoding": {
            "x": {"field": "t", "type": "quantitative", "title": null},
            "y": {"field": "l", "type": "quantitative", "title": null},
            "y2": {"field": "h"},
            "color": {"condition": {"test": "datum.c >= datum.o", "value": "#008000"}, "value": "#ff0000"}
          }
        },
        {
          "data": {"name": "c"},
          "transform": [{"filter": "datum.t >= 35"}],
          "mark": {"type": "bar", "width": 4, "strokeWidth": 1, "clip": true},
          "encoding": {
            "x": {"field": "t", "type": "quantitative", "title": null},
            "y": {"field": "o", "type": "quantitative", "title": null},
            "y2": {"field": "c"},
            "fill": {"condition": {"test": "datum.c >= datum.o", "value": "#ffffff"}, "value": "#ff0000"},
            "stroke": {"condition": {"test": "datum.c >= datum.o", "value": "#008000"}, "value": "#ff0000"}
          }
        },
        {
          "data": {"values": [{"y": 1881.99}, {"y": 1577.43}]},
          "mark": {"type": "rule", "color": "#008000", "strokeWidth": 3},
          "encoding": {"y": {"field": "y", "type": "quantitative", "title": null}}
        },
        {
          "data": {"values": [{"y": 1881.99, "s": "1881.99"}, {"y": 1577.43, "s": "1577.43"}]},
          "mark": {"type": "text", "align": "left", "baseline": "middle", "dy": 7, "fontSize": 10, "color": "#000"},
          "encoding": {
            "x": {"datum": 0.4},
            "y": {"field": "y", "type": "quantitative", "title": null},
            "text": {"field": "s"}
          }
        },
        {
          "data": {"values": [{}]},
          "mark": {"type": "text", "align": "left", "baseline": "middle", "fontSize": 10, "color": "#000", "text": "Bol U-M-D: 2862.53 - 2444.10 - 2025.67"},
          "encoding": {"x": {"datum": 0.75}, "y": {"datum": 8133}}
        },
        {
          "data": {"values": [{}]},
          "mark": {"type": "text", "align": "left", "baseline": "middle", "fontSize": 19, "color": "#000", "text": "Bursagraph.co.il | 587014 | ארית תעשיות"},
          "encoding": {"x": {"datum": 1.25}, "y": {"datum": 661}}
        },
        {
          "data": {"values": [{"y": 8260}, {"y": 427}]},
          "mark": {"type": "rule", "color": "#000", "strokeWidth": 1.5},
          "encoding": {"y": {"field": "y", "type": "quantitative", "title": null}}
        },
        {
          "data": {"values": [{"x": 0}, {"x": 469.45}]},
          "mark": {"type": "rule", "color": "#000", "strokeWidth": 2},
          "encoding": {"x": {"field": "x", "type": "quantitative", "title": null}}
        }
      ]
    },
    {
      "width": 1844,
      "height": 112,
      "layer": [
        {
          "data": {"name": "c"},
          "mark": {"type": "rule", "strokeWidth": 1.5},
          "encoding": {
            "x": {"field": "t", "type": "quantitative", "title": null,
              "scale": {"domain": [0, 461], "nice": false, "zero": false, "padding": 0},
              "axis": {"values": [39, 81, 122.6, 162, 205, 240, 284, 325, 361.7, 402.3], "labels": false, "grid": true,
                "gridColor": {"condition": {"test": "datum.value == 284", "value": "#808080"}, "value": "#c0c0c0"}}},
            "y": {"field": "v", "type": "quantitative", "title": null,
              "scale": {"domain": [0, 210767], "nice": false, "zero": true, "padding": 0},
              "axis": {"orient": "right", "values": [105384, 210767], "format": ",d", "grid": true,
                "gridColor": {"condition": {"test": "datum.value > 200000", "value": "transparent"}, "value": "#c0c0c0"},
                "labelFontSize": 9, "labelColor": "#777777", "labelPadding": 0.5, "labelFlush": true}},
            "y2": {"datum": 0},
            "color": {"condition": {"test": "datum.c >= datum.o", "value": "#008000"}, "value": "#ff0000"}
          }
        },
        {
          "data": {"values": [{"y": 210767, "w": 1.5}, {"y": 0, "w": 3}]},
          "mark": {"type": "rule", "color": "#000"},
          "encoding": {
            "y": {"field": "y", "type": "quantitative", "title": null},
            "strokeWidth": {"field": "w", "type": "quantitative", "scale": null}
          }
        },
        {
          "data": {"values": [{"x": 0}, {"x": 469.45}]},
          "mark": {"type": "rule", "color": "#000", "strokeWidth": 2},
          "encoding": {"x": {"field": "x", "type": "quantitative", "title": null}}
        }
      ]
    },
    {
      "width": 1844,
      "height": 132,
      "layer": [
        {
          "data": {"values": [{}]},
          "mark": {"type": "rule", "color": "#ff0000", "strokeWidth": 1, "strokeDash": [9, 6]},
          "encoding": {
            "y": {"datum": 50, "type": "quantitative", "title": null,
              "scale": {"domain": [10, 100], "nice": false, "zero": false, "padding": 0},
              "axis": {"orient": "right", "values": [30, 50, 70], "grid": true,
                "gridColor": {"condition": {"test": "datum.value == 50", "value": "transparent"}, "value": "#c0c0c0"},
                "labelFontSize": 11, "labelColor": "#000", "labelPadding": 2}}
          }
        },
        {
          "data": {"name": "b"},
          "mark": {"type": "line", "color": "#808000", "strokeWidth": 1},
          "encoding": {
            "x": {"field": "t", "type": "quantitative", "title": null,
              "scale": {"domain": [0, 461], "nice": false, "zero": false, "padding": 0},
              "axis": {"orient": "top", "values": [39, 81, 122.6, 162, 205, 240, 284, 325, 361.7, 402.3],
                "labelExpr": "datum.value == 39 ? '2025' : datum.value == 81 ? 'Mar' : datum.value == 122.6 ? 'May' : datum.value == 162 ? 'Jul' : datum.value == 205 ? 'Sep' : datum.value == 240 ? 'Nov' : datum.value == 284 ? '2026' : datum.value == 325 ? 'Mar' : datum.value == 361.7 ? 'May' : 'Jul'",
                "grid": true,
                "gridColor": {"condition": {"test": "datum.value == 284", "value": "#808080"}, "value": "#c0c0c0"},
                "labelAlign": "left", "labelBaseline": "top", "labelPadding": -4, "labelFontSize": 11, "labelColor": "#000",
                "labelFlush": false, "labelOverlap": false, "labelBound": false}},
            "y": {"field": "s", "type": "quantitative", "title": null}
          }
        },
        {
          "data": {"name": "c"},
          "mark": {"type": "line", "color": "#000", "strokeWidth": 2.2, "strokeJoin": "round"},
          "encoding": {
            "x": {"field": "t", "type": "quantitative", "title": null},
            "y": {"field": "r", "type": "quantitative", "title": null}
          }
        },
        {
          "data": {"values": [{}]},
          "mark": {"type": "text", "align": "left", "baseline": "middle", "fontSize": 10.5, "color": "#000", "text": "Sm.RSI 13/13 = 18.5"},
          "encoding": {"x": {"datum": 0.75}, "y": {"datum": 86.6}}
        },
        {
          "data": {"values": [{"x": 0}, {"x": 469.45}]},
          "mark": {"type": "rule", "color": "#000", "strokeWidth": 2},
          "encoding": {"x": {"field": "x", "type": "quantitative", "title": null}}
        }
      ]
    },
    {
      "width": 1844,
      "height": 53,
      "layer": [
        {
          "data": {"values": [{}]},
          "mark": {"type": "rule", "color": "#ff0000", "strokeWidth": 1, "strokeDash": [9, 6]},
          "encoding": {
            "y": {"datum": 0.5, "type": "quantitative", "title": null,
              "scale": {"domain": [-0.48, 1.374], "nice": false, "zero": false, "padding": 0},
              "axis": {"orient": "right", "values": [0, 0.5, 1], "format": ".1f", "grid": true, "gridDash": [8, 5],
                "gridColor": {"condition": {"test": "datum.value == 0.5", "value": "transparent"}, "value": "#c0c0c0"},
                "labelFontSize": 8, "labelColor": "#000", "labelPadding": 4}}
          }
        },
        {
          "data": {"name": "c"},
          "mark": {"type": "line", "color": "#000", "strokeWidth": 2.2, "strokeJoin": "round"},
          "encoding": {
            "x": {"field": "t", "type": "quantitative", "title": null,
              "scale": {"domain": [0, 461], "nice": false, "zero": false, "padding": 0},
              "axis": {"labels": false, "grid": false}},
            "y": {"field": "p", "type": "quantitative", "title": null}
          }
        },
        {
          "data": {"values": [{}]},
          "mark": {"type": "text", "align": "left", "baseline": "middle", "fontSize": 10.5, "color": "#000", "text": "%B = -0.26"},
          "encoding": {"x": {"datum": 0.75}, "y": {"datum": 1.14}}
        },
        {
          "data": {"values": [{}]},
          "mark": {"type": "rule", "color": "#8c8c8c", "strokeWidth": 3},
          "encoding": {"y": {"datum": 1.374}}
        },
        {
          "data": {"values": [{"x": 0}, {"x": 469.45}]},
          "mark": {"type": "rule", "color": "#000", "strokeWidth": 2},
          "encoding": {"x": {"field": "x", "type": "quantitative", "title": null}}
        }
      ]
    },
    {
      "width": 1844,
      "height": 65,
      "layer": [
        {
          "data": {"values": [{}]},
          "mark": {"type": "rule", "color": "#ff0000", "strokeWidth": 1, "strokeDash": [9, 6]},
          "encoding": {
            "y": {"datum": 0.88, "type": "quantitative", "title": null,
              "scale": {"domain": [0.4, 1.22], "nice": false, "zero": false, "padding": 0},
              "axis": {"orient": "right", "values": [0.88], "format": ".2f", "grid": false,
                "labelFontSize": 8, "labelColor": "#000", "labelPadding": 4}}
          }
        },
        {
          "data": {"name": "b"},
          "mark": {"type": "line", "color": "#000", "strokeWidth": 2.2, "strokeJoin": "round"},
          "encoding": {
            "x": {"field": "t", "type": "quantitative", "title": null,
              "scale": {"domain": [0, 461], "nice": false, "zero": false, "padding": 0},
              "axis": {"values": [39, 81, 122.6, 162, 205, 240, 284, 325, 361.7, 402.3], "labels": false, "grid": true,
                "gridColor": {"condition": {"test": "datum.value == 284", "value": "#808080"}, "value": "#c0c0c0"}}},
            "y": {"field": "w", "type": "quantitative", "title": null}
          }
        },
        {
          "data": {"values": [{}]},
          "mark": {"type": "text", "align": "left", "baseline": "middle", "fontSize": 10.5, "color": "#000", "text": "BW = 34.24"},
          "encoding": {"x": {"datum": 0.75}, "y": {"datum": 1.06}}
        },
        {
          "data": {"values": [{}]},
          "mark": {"type": "rule", "color": "#000", "strokeWidth": 2},
          "encoding": {"y": {"datum": 0.4}}
        },
        {
          "data": {"values": [{"x": 0}, {"x": 469.45}]},
          "mark": {"type": "rule", "color": "#000", "strokeWidth": 2},
          "encoding": {"x": {"field": "x", "type": "quantitative", "title": null}}
        }
      ]
    }
  ]
}
